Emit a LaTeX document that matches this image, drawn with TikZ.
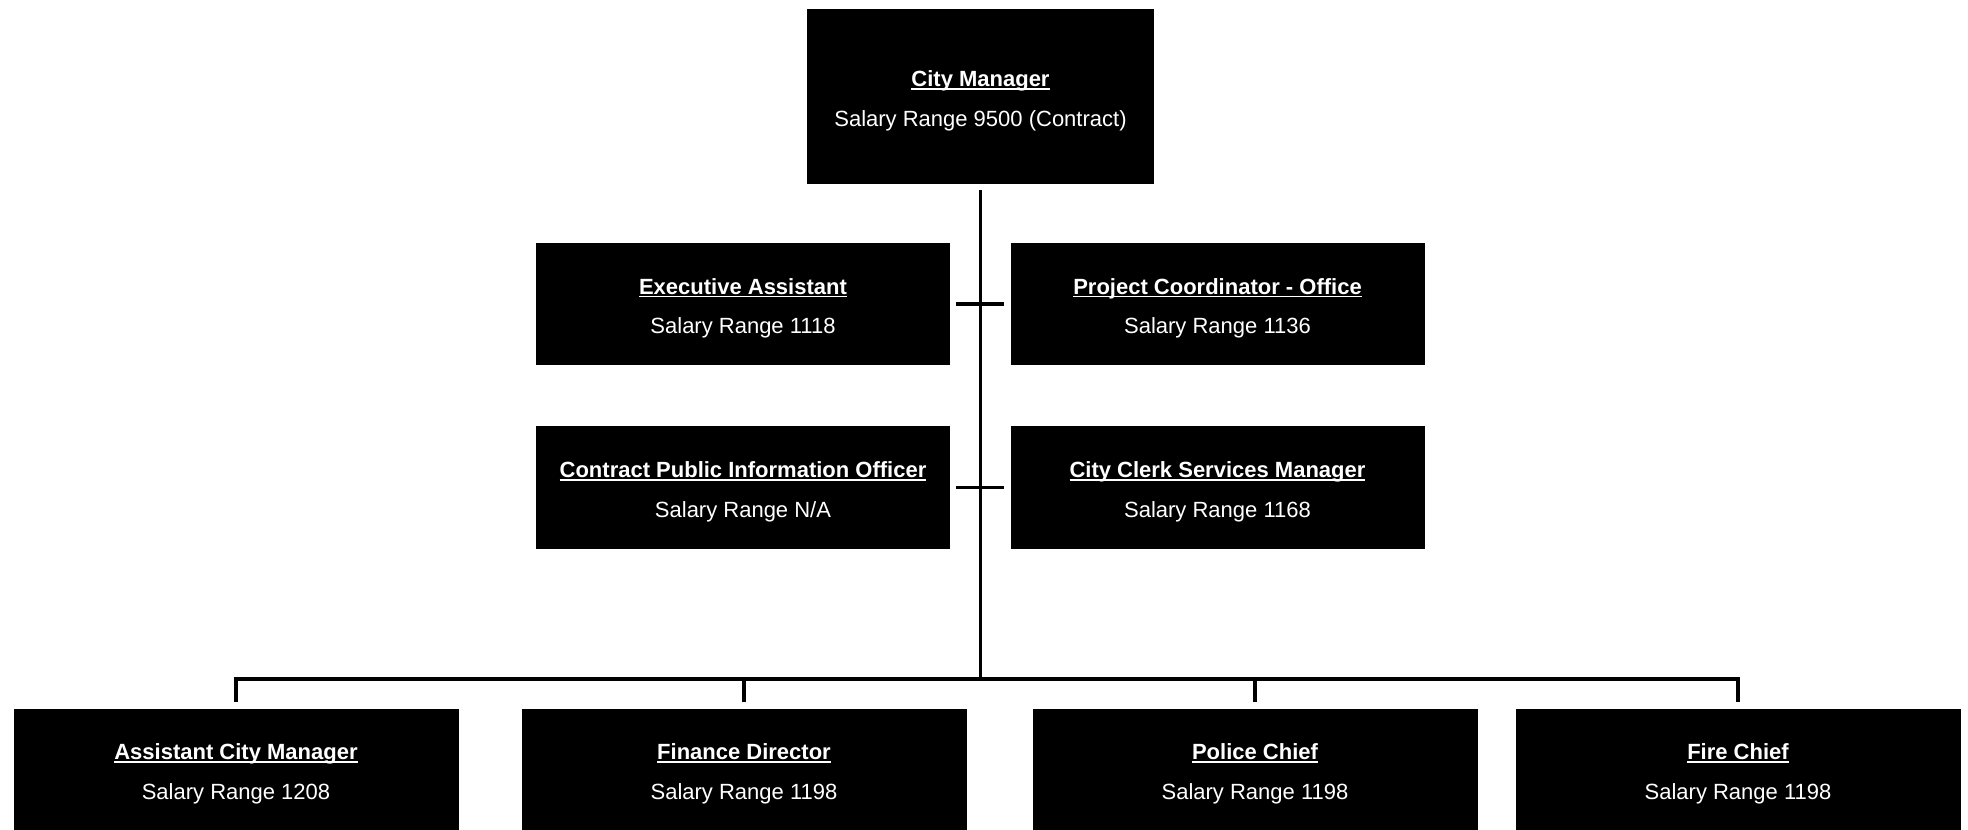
\documentclass[tikz,border=0pt]{standalone}
\usepackage{fontspec}
\setmainfont{Liberation Sans}
\newcommand\myul[1]{\rule{0pt}{18.5pt}\setbox0\hbox{#1}\rlap{\rule[-2.2pt]{\wd0}{1.3pt}}\box0}
\begin{document}
\begin{tikzpicture}[x=0.75pt,y=-0.75pt,
  orgbox/.style={fill=black,text=white,inner sep=0pt,align=center,font=\fontsize{16.5}{29.5}\selectfont},
  midbox/.style={orgbox,minimum width=310.5pt,minimum height=91.5pt},
  botbox/.style={orgbox,minimum width=333.75pt,minimum height=90.75pt},
  conn/.style={line width=2.6pt,draw=black}]
\fill[white] (0,0) rectangle (1968,830);
\useasboundingbox (0,0) rectangle (1968,830);
\node[orgbox,minimum width=260.25pt,minimum height=131.25pt] (cm) at (980.5,96.5) {\myul{\textbf{City Manager}}\\Salary Range 9500 (Contract)};
\node[midbox] (ea) at (743,304) {\myul{\textbf{Executive Assistant}}\\Salary Range 1118};
\node[midbox] (pco) at (1217.5,304) {\myul{\textbf{Project Coordinator - Office}}\\Salary Range 1136};
\node[midbox] (pio) at (743,487.5) {\myul{\textbf{Contract Public Information Officer}}\\Salary Range N/A};
\node[midbox] (ccm) at (1217.5,487.5) {\myul{\textbf{City Clerk Services Manager}}\\Salary Range 1168};
\node[botbox] (acm) at (236,769.5) {\myul{\textbf{Assistant City Manager}}\\Salary Range 1208};
\node[botbox] (fd) at (744,769.5) {\myul{\textbf{Finance Director}}\\Salary Range 1198};
\node[botbox] (pc) at (1255,769.5) {\myul{\textbf{Police Chief}}\\Salary Range 1198};
\node[botbox] (fc) at (1738,769.5) {\myul{\textbf{Fire Chief}}\\Salary Range 1198};
\coordinate (bus) at (980.5,679);
\draw[conn,shorten <=4.5pt] (cm.south) -- (bus);
\foreach \n in {acm,fd,pc,fc} \draw[conn,shorten >=5pt] (bus) -| (\n.north);
\draw[conn,shorten <=4.5pt,shorten >=4.5pt] (ea.east) -- (pco.west);
\draw[conn,shorten <=4.5pt,shorten >=4.5pt] (pio.east) -- (ccm.west);
\end{tikzpicture}
\end{document}
